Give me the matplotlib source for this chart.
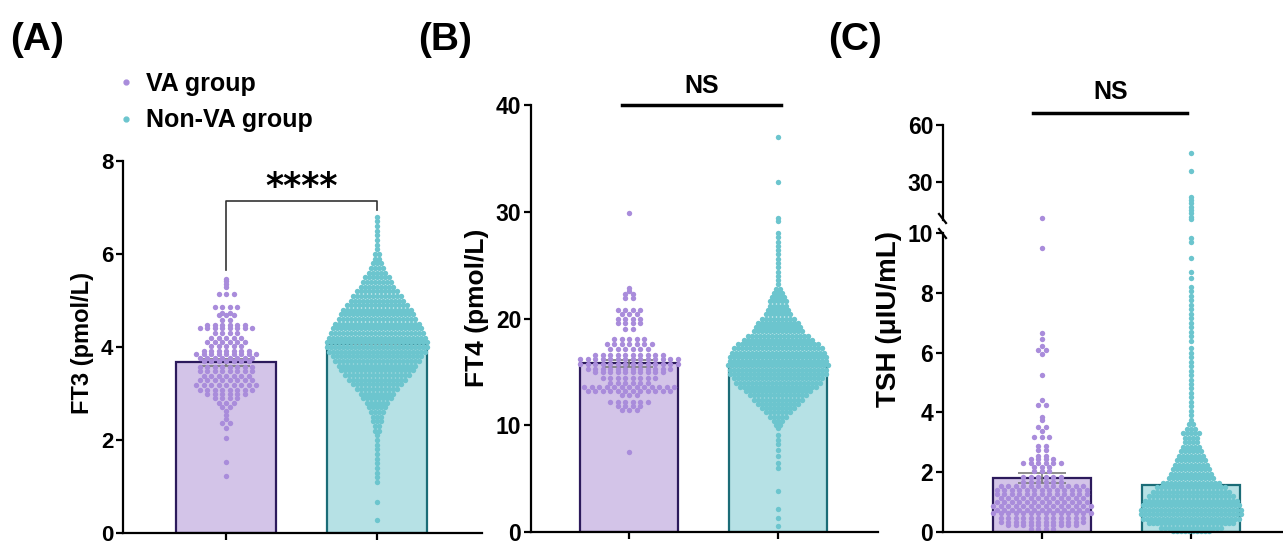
import numpy as np
import matplotlib
matplotlib.use('Agg')
import matplotlib.pyplot as plt
from matplotlib.lines import Line2D

# ---- data: (value, number of dots in that swarm row) ----
# FT3, VA group
ft3_va_vals = [5.46, 5.41, 5.35, 5.29, 5.15, 4.87, 4.74, 4.69, 4.58, 4.47, 4.40, 4.30,
               4.20, 4.10, 4.02, 3.92, 3.86, 3.76, 3.70, 3.58, 3.48, 3.38, 3.28, 3.18,
               3.08, 2.98, 2.90, 2.80, 2.70, 2.62, 2.54, 2.46, 2.36, 2.25, 2.04, 1.53, 1.22]
ft3_va_counts = [1, 1, 1, 1, 3, 4, 2, 3, 2, 6, 8, 4,
                 5, 6, 5, 7, 9, 8, 7, 8, 8, 7, 8, 9,
                 8, 6, 4, 3, 2, 1, 1, 1, 2, 1, 1, 1, 1]
# FT3, non-VA group
ft3_non_vals = [6.8, 6.7, 6.6, 6.5, 6.4, 6.3, 6.2, 6.1, 6.0, 5.9, 5.8, 5.7, 5.6, 5.5, 5.4,
                5.3, 5.2, 5.1, 5.0, 4.9, 4.8, 4.7, 4.6, 4.5, 4.4, 4.3, 4.2, 4.1, 4.0, 3.9,
                3.8, 3.7, 3.6, 3.5, 3.4, 3.3, 3.2, 3.1, 3.0, 2.9, 2.8, 2.7, 2.6, 2.5, 2.4,
                2.3, 2.2, 2.1, 2.0, 1.9, 1.8, 1.7, 1.6, 1.5, 1.4, 1.3, 1.2, 1.1, 0.67, 0.27]
ft3_non_counts = [1, 1, 1, 1, 1, 1, 1, 1, 2, 2, 3, 4, 5, 7, 8,
                  9, 11, 13, 14, 16, 18, 19, 20, 22, 23, 24, 25, 26, 26, 25,
                  23, 22, 20, 19, 17, 15, 13, 11, 9, 8, 6, 5, 4, 3, 3,
                  2, 2, 1, 1, 1, 1, 1, 1, 1, 1, 1, 1, 1, 1, 1]
# FT4, VA group
ft4_va_vals = [29.85, 22.9, 22.6, 22.3, 21.9, 20.8, 20.4, 20.0, 19.6, 19.0, 18.1, 17.6,
               17.1, 16.6, 16.2, 15.7, 15.3, 15.0, 14.4, 14.0, 13.6, 13.2, 12.8, 12.2,
               11.8, 11.4, 7.5]
ft4_va_counts = [1, 1, 1, 2, 2, 4, 3, 4, 4, 2, 5, 7,
                 6, 10, 14, 14, 12, 10, 8, 6, 13, 12, 3, 6,
                 4, 3, 1]
# FT4, non-VA group
ft4_non_vals = [37.0, 32.8, 29.4, 29.1, 28.0, 27.6, 27.2, 26.8, 26.4, 26.0, 25.6, 25.2,
                24.8, 24.4, 24.0, 23.6, 23.2, 22.8, 22.4, 22.0, 21.6, 21.2, 20.8, 20.4,
                20.0, 19.6, 19.2, 18.8, 18.4, 18.0, 17.6, 17.2, 16.8, 16.4, 16.0, 15.6,
                15.2, 14.8, 14.4, 14.0, 13.6, 13.2, 12.8, 12.4, 12.0, 11.6, 11.2, 10.8,
                10.4, 10.0, 9.7, 9.1, 8.6, 8.2, 7.7, 7.1, 6.5, 6.0, 3.8, 2.2, 1.3, 0.6]
ft4_non_counts = [1, 1, 1, 1, 1, 1, 1, 1, 1, 1, 1, 1,
                  1, 1, 1, 1, 1, 2, 3, 4, 5, 5, 6, 7,
                  9, 11, 12, 13, 16, 18, 21, 23, 24, 25, 25, 26,
                  25, 25, 23, 22, 20, 17, 15, 13, 11, 9, 7, 5,
                  3, 2, 1, 1, 1, 1, 1, 1, 1, 1, 1, 1, 1, 1]
# TSH, VA group
tsh_va_vals = [11.0, 9.49, 6.65, 6.44, 6.23, 6.09, 5.95, 5.25, 4.41, 4.25, 3.86, 3.75,
               3.50, 3.38, 3.17, 2.88, 2.74, 2.54, 2.43, 2.30, 2.18, 2.05, 1.85, 1.68,
               1.55, 1.42, 1.28, 1.15, 1.02, 0.88, 0.75, 0.62, 0.48, 0.35, 0.22, 0.10]
tsh_va_counts = [1, 1, 1, 1, 1, 2, 1, 1, 1, 2, 1, 1,
                 2, 1, 3, 2, 2, 2, 4, 6, 3, 3, 6, 6,
                 12, 13, 13, 12, 13, 14, 13, 14, 12, 12, 10, 4]
# TSH, non-VA group
tsh_non_vals = [45.4, 36.0, 22.3, 20.5, 18.8, 17.0, 15.3, 13.5, 11.7, 10.6,
                9.82, 9.71, 9.15, 8.70, 8.50, 8.20, 8.05, 7.90, 7.75, 7.60, 7.45, 7.30,
                7.15, 7.00, 6.85, 6.70, 6.55, 6.40, 6.15, 6.00, 5.85, 5.70, 5.55, 5.40,
                5.25, 5.10, 4.95, 4.80, 4.65, 4.50, 4.35, 4.20, 4.05, 3.90, 3.75,
                3.60, 3.45, 3.30, 3.15, 3.00, 2.85, 2.70, 2.55, 2.40, 2.25, 2.10, 1.95,
                1.80, 1.65, 1.50, 1.35, 1.20, 1.05, 0.90, 0.75, 0.60, 0.45, 0.30, 0.15, 0.05]
tsh_non_counts = [1, 1, 1, 1, 1, 1, 1, 1, 1, 1,
                  1, 1, 1, 1, 1, 1, 1, 1, 1, 1, 1, 1,
                  1, 1, 1, 1, 1, 1, 1, 1, 1, 1, 1, 1,
                  1, 1, 1, 1, 1, 1, 1, 1, 1, 1, 1,
                  2, 3, 5, 4, 4, 5, 6, 7, 8, 9, 10, 11,
                  12, 15, 18, 20, 22, 24, 25, 26, 26, 25, 22, 16, 10]

# bar heights (mean) and SEM
ft3_means, ft3_sem = [3.67, 4.07], [0.08, 0.01]
ft4_means, ft4_sem = [15.8, 15.55], [0.3, 0.04]
tsh_means, tsh_sem = [1.80, 1.58], [0.17, 0.03]

groups = ['VA group', 'Non-VA group']

# ---- style ----
va_dot, non_dot = '#a98cdb', '#6cc5ce'
va_fill, non_fill = '#d3c4e8', '#b6e1e5'
va_edge, non_edge = '#2c1a5c', '#1b6c77'
FONT = ['Liberation Sans', 'DejaVu Sans']

W, H = 1283, 544
fig = plt.figure(figsize=(W / 100, H / 100), dpi=100)


def box(x0, y0, x1, y1):
    # pixel box (top-left origin) -> figure fraction
    return [x0 / W, 1 - y1 / H, (x1 - x0) / W, (y1 - y0) / H]


def style(ax, xlim, ylim, yticks, fs):
    ax.set_xlim(xlim)
    ax.set_ylim(ylim)
    ax.patch.set_alpha(0)
    for s in ['top', 'right']:
        ax.spines[s].set_visible(False)
    for s in ['left', 'bottom']:
        ax.spines[s].set_linewidth(1.6)
    ax.set_xticks([0, 1])
    ax.set_xticklabels([])
    ax.set_yticks(yticks)
    ax.set_yticklabels([str(t) for t in yticks], fontsize=fs, fontweight='bold', family=FONT)
    ax.tick_params(width=1.6, length=5, pad=2)


def swarm(ax, x0, vals, counts, spacing_px, color):
    xl = ax.get_xlim()
    dx = spacing_px * (xl[1] - xl[0]) / ax.bbox.width
    xs, ys = [], []
    for v, n in zip(vals, counts):
        offs = (np.arange(n) - (n - 1) / 2) * dx
        xs.extend(x0 + offs)
        ys.extend([v] * n)
    ax.scatter(xs, ys, s=15, color=color, lw=0, zorder=2, clip_on=False)


def bars(ax, means):
    ax.bar([0, 1], means, width=0.66, color=[va_fill, non_fill],
           edgecolor=[va_edge, non_edge], linewidth=1.6, zorder=1)


def errs(ax, means, sems):
    # drawn under the dots, so only the VA caps show through
    ax.errorbar([0, 1], means, yerr=sems, fmt='none', ecolor='#7a7a7a',
                elinewidth=1.2, capsize=17, capthick=1.2, zorder=1.5)


# ---- panel A ----
axA = fig.add_axes(box(123, 161, 482, 533))
style(axA, (-0.682, 1.695), (0, 8), [0, 2, 4, 6, 8], 16)
bars(axA, ft3_means)
errs(axA, ft3_means, ft3_sem)
swarm(axA, 0, ft3_va_vals, ft3_va_counts, 7.5, va_dot)
swarm(axA, 1, ft3_non_vals, ft3_non_counts, 4, non_dot)
axA.plot([0, 0, 1, 1], [5.66, 7.14, 7.14, 6.95], color='#333333', lw=1.2, clip_on=False)
axA.text(0.5, 7.22, '****', ha='center', va='baseline', fontsize=25, fontweight='bold',
         family=['DejaVu Sans'])

# ---- panel B ----
axB = fig.add_axes(box(531, 105, 878, 532))
style(axB, (-0.658, 1.671), (0, 40), [0, 10, 20, 30, 40], 16.5)
bars(axB, ft4_means)
errs(axB, ft4_means, ft4_sem)
swarm(axB, 0, ft4_va_vals, ft4_va_counts, 7.5, va_dot)
swarm(axB, 1, ft4_non_vals, ft4_non_counts, 4, non_dot)
axB.plot([-0.047, 1.02], [40, 40], color='black', lw=2.5, clip_on=False)
axB.text(0.49, 41.8, 'NS', ha='center', va='center', fontsize=18, fontweight='bold',
         family=FONT)

# ---- panel C (broken y axis) ----
axC = fig.add_axes(box(943, 233, 1283, 532))
style(axC, (-0.664, 1.617), (0, 10), [0, 2, 4, 6, 8, 10], 16.5)
axC2 = fig.add_axes(box(943, 125, 1283, 220), sharex=axC)
style(axC2, (-0.664, 1.617), (10, 60), [30, 60], 16.5)
axC2.spines['bottom'].set_visible(False)
axC2.tick_params(axis='x', length=0)
bars(axC, tsh_means)
errs(axC, tsh_means, tsh_sem)
for ax in [axC, axC2]:
    top = ax is axC2
    swarm(ax, 0, [v for v in tsh_va_vals if (v > 10) == top],
          [c for v, c in zip(tsh_va_vals, tsh_va_counts) if (v > 10) == top], 7.5, va_dot)
    swarm(ax, 1, [v for v in tsh_non_vals if (v > 10) == top],
          [c for v, c in zip(tsh_non_vals, tsh_non_counts) if (v > 10) == top], 4, non_dot)
axC2.plot([-0.06, 0.97], [66.5, 66.5], color='black', lw=2.5, clip_on=False)
axC2.text(0.46, 77.4, 'NS', ha='center', va='center', fontsize=18, fontweight='bold',
          family=FONT)
# break marks
for y0, y1 in [(214, 223), (229, 238)]:
    fig.add_artist(Line2D([939 / W, 946 / W], [1 - y0 / H, 1 - y1 / H], color='black', lw=1.6))

# ---- labels ----
for x, lab in [(10, '(A)'), (418, '(B)'), (828, '(C)')]:
    fig.text(x / W, 1 - 40 / H, lab, fontsize=28, fontweight='bold', va='center', ha='left',
             family=FONT)
for x, y, lab, fs in [(82, 343, 'FT3 (pmol/L)', 17), (477, 308, 'FT4 (pmol/L)', 19),
                      (889, 319, 'TSH (μIU/mL)', 20)]:
    fig.text(x / W, 1 - y / H, lab, rotation=90, fontsize=fs, fontweight='bold',
             ha='center', va='center', family=FONT)

handles = [Line2D([], [], marker='o', ls='', color=va_dot, ms=3.5),
           Line2D([], [], marker='o', ls='', color=non_dot, ms=3.5)]
fig.legend(handles, groups, loc='upper left', bbox_to_anchor=(118 / W, 1 - 72 / H),
           frameon=False, prop={'family': FONT, 'weight': 'bold', 'size': 18},
           handlelength=0.6, handletextpad=0.5, labelspacing=0.5, borderpad=0,
           borderaxespad=0)

fig.savefig('out.png', dpi=100)
